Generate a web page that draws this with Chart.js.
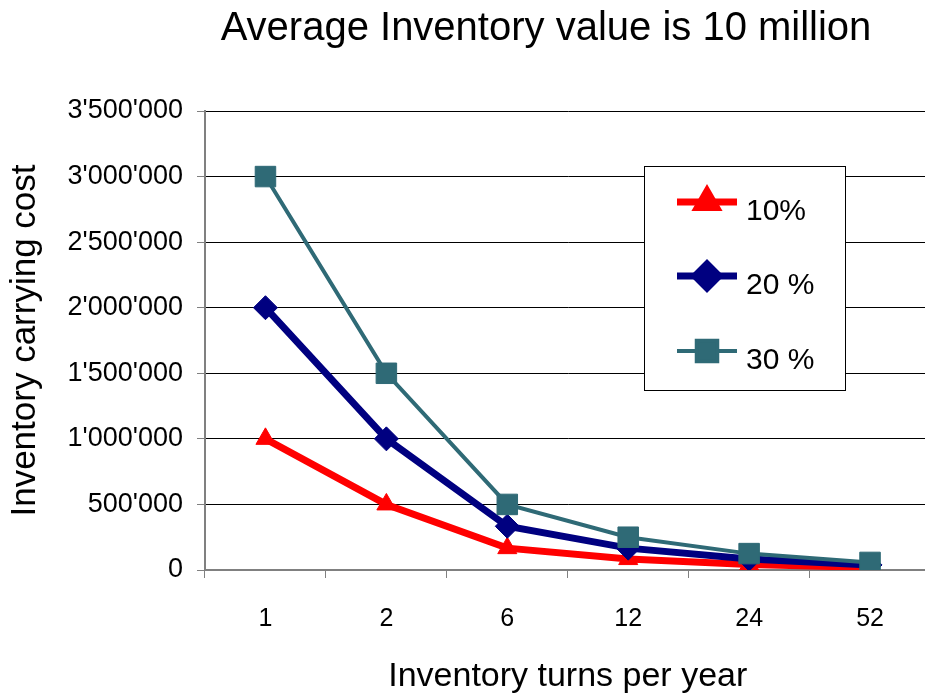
<!DOCTYPE html>
<html>
<head>
<meta charset="utf-8">
<script src="https://cdn.jsdelivr.net/npm/chart.js@4.4.1/dist/chart.umd.min.js"></script>
<style>
  html, body { margin: 0; padding: 0; background: #fff; overflow: hidden; }
  #wrap { width: 946px; height: 697px; position: relative; }
</style>
</head>
<body>
<div id="wrap"><canvas id="c" width="946" height="697"></canvas></div>
<script>
// Inventory carrying cost for an average inventory value of 10 million
const turnsPerYear = ['1', '2', '6', '12', '24', '52'];
const cost10 = [1000000, 500000, 166667, 83333, 41667, 19231];
const cost20 = [2000000, 1000000, 333333, 166667, 83333, 38462];
const cost30 = [3000000, 1500000, 500000, 250000, 125000, 57692];
const seriesNames = ['10%', '20 %', '30 %'];

const FONT = "'Liberation Sans', Arial, sans-serif";
const RED = '#FF0000', NAVY = '#000080', TEAL = '#2F6A76';

function swissFormat(v) {
  return String(Math.round(v)).replace(/\B(?=(\d{3})+(?!\d))/g, "'");
}

// Title centred over the plot
const titlePlugin = {
  id: 'topTitle',
  afterDraw(chart) {
    const ctx = chart.ctx;
    ctx.save();
    ctx.font = '40px ' + FONT;
    ctx.fillStyle = '#000';
    ctx.textAlign = 'center';
    ctx.textBaseline = 'middle';
    ctx.fillText('Average Inventory value is 10 million', 546, 29);
    ctx.restore();
  }
};

// Boxed legend inside the plot area
const boxLegend = {
  id: 'boxLegend',
  afterDatasetsDraw(chart) {
    const ctx = chart.ctx;
    const x0 = 644, y0 = 166, w = 201, h = 224;
    ctx.save();
    ctx.fillStyle = '#fff';
    ctx.fillRect(x0, y0, w, h);
    ctx.strokeStyle = '#000';
    ctx.lineWidth = 1;
    ctx.strokeRect(x0 + 0.5, y0 + 0.5, w, h);
    const rows = [202, 276, 351];
    chart.data.datasets.forEach((ds, i) => {
      const y = rows[i];
      ctx.strokeStyle = ds.borderColor;
      ctx.lineWidth = ds.borderWidth;
      ctx.beginPath();
      ctx.moveTo(677, y);
      ctx.lineTo(737, y);
      ctx.stroke();
      ctx.fillStyle = ds.pointBackgroundColor;
      ctx.strokeStyle = ds.pointBorderColor;
      Chart.helpers.drawPoint(ctx, {
        pointStyle: ds.pointStyle,
        radius: ds.pointRadius,
        rotation: 0,
        borderWidth: 1
      }, 707, y);
      ctx.fillStyle = '#000';
      ctx.font = '30px ' + FONT;
      ctx.textAlign = 'left';
      ctx.textBaseline = 'middle';
      ctx.fillText(seriesNames[i], 746, y + 10);
    });
    ctx.restore();
  }
};

new Chart(document.getElementById('c'), {
  type: 'line',
  data: {
    labels: turnsPerYear,
    datasets: [
      {
        label: seriesNames[0], data: cost10, order: 2,
        borderColor: RED, backgroundColor: RED, borderWidth: 7,
        pointStyle: 'triangle', pointRadius: 11,
        pointBackgroundColor: RED, pointBorderColor: RED, pointBorderWidth: 1,
        tension: 0
      },
      {
        label: seriesNames[1], data: cost20, order: 1,
        borderColor: NAVY, backgroundColor: NAVY, borderWidth: 7,
        pointStyle: 'rectRot', pointRadius: 12,
        pointBackgroundColor: NAVY, pointBorderColor: NAVY, pointBorderWidth: 1,
        tension: 0
      },
      {
        label: seriesNames[2], data: cost30, order: 0,
        borderColor: TEAL, backgroundColor: TEAL, borderWidth: 4,
        pointStyle: 'rect', pointRadius: 14.5,
        pointBackgroundColor: TEAL, pointBorderColor: TEAL, pointBorderWidth: 1,
        tension: 0
      }
    ]
  },
  options: {
    responsive: false,
    animation: false,
    devicePixelRatio: 1,
    layout: { padding: { top: 111, right: 0, left: 0, bottom: 0 } },
    plugins: {
      legend: { display: false },
      tooltip: { enabled: false },
      title: { display: false }
    },
    scales: {
      x: {
        type: 'category',
        offset: true,
        grid: {
          offset: true,
          drawOnChartArea: false,
          drawTicks: true,
          tickLength: 8,
          tickColor: '#808080',
          tickWidth: 1
        },
        border: { color: '#808080', width: 2 },
        ticks: {
          color: '#000',
          font: { family: FONT, size: 25 },
          padding: 26,
          maxRotation: 0
        },
        title: {
          display: true,
          text: 'Inventory turns per year',
          color: '#000',
          font: { family: FONT, size: 34 },
          padding: { top: 0, bottom: 0 }
        },
        afterFit(scale) { scale.height = 127; }
      },
      y: {
        min: 0,
        max: 3500000,
        ticks: {
          stepSize: 500000,
          color: '#000',
          font: { family: FONT, size: 27 },
          padding: 14,
          callback: (v) => swissFormat(v)
        },
        grid: {
          color: (c) => (c.tick && c.tick.value === 0) ? '#808080' : '#000',
          lineWidth: 1,
          tickLength: 8,
          tickColor: '#808080'
        },
        border: { color: '#808080', width: 2 },
        title: {
          display: true,
          text: 'Inventory carrying cost',
          color: '#000',
          font: { family: FONT, size: 35 },
          padding: { top: 4, bottom: 0 }
        },
        afterFit(scale) { scale.width = 205; }
      }
    }
  },
  plugins: [titlePlugin, boxLegend]
});
</script>
</body>
</html>
